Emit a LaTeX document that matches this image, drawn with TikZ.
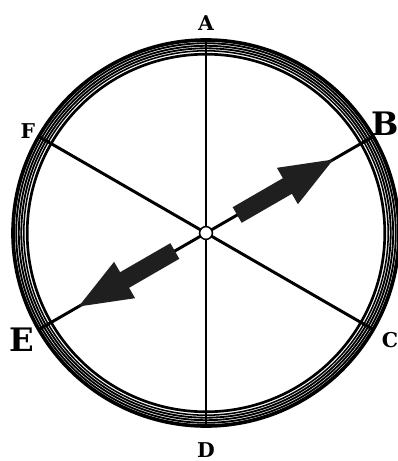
\documentclass[tikz,border=0pt]{standalone}
\usepackage{fontspec}
\newfontfamily\lblfont{DejaVu Serif}
\usetikzlibrary{positioning}
\tikzset{
  spoke/.style={line width=2.1pt},
  ring/.style={draw, fill=none},
  lbl/.style={inner sep=0pt},
  pointer/.style={fill=black!88, draw=none}}

\begin{document}
\begin{tikzpicture}[x=0.025cm, y=0.025cm,
  hub/.style={circle, draw, fill=white, line width=1.1pt, minimum size=0.32cm, inner sep=0pt}]
\useasboundingbox (-206,-228) rectangle (192,233);
\coordinate (o) at (0,0);
\foreach \r/\w in {193/2.6pt, 189.8/1.3pt, 187.2/1.3pt, 184.7/1.3pt, 182.2/1.1pt, 178.8/1.9pt}
  \draw[ring, line width=\w] (o) circle[radius=\r];
\foreach \n/\a in {A/90, B/30, C/-30, D/-90, E/210, F/150}
  \coordinate (r\n) at (\a:193.5);
\foreach \n in {A,...,F}
  \draw[spoke] (o) -- (r\n);
\foreach \a in {30,210}
  \fill[pointer, rotate=\a] (36,-9) -- (94,-9) -- (94,-21) -- (147,0) -- (94,21) -- (94,9) -- (36,9) -- cycle;
\node[hub] (c) at (o) {};
\foreach \n/\a/\d/\s in {A/90/210/14.5, B/31.3/210/23, C/-30.3/213/14.5, D/-90/217/14.5, E/210.2/213/23, F/150.3/205/14.5}
  \node[lbl, font=\fontsize{\s}{\s}\lblfont\bfseries] (l\n) at (\a:\d) {\n};
\end{tikzpicture}
\end{document}
